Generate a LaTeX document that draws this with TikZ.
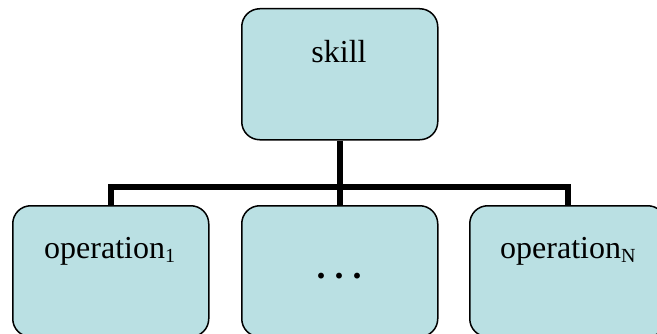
\documentclass[tikz,border=0pt]{standalone}
\usepackage{fontspec}
\setmainfont{Liberation Serif}
\usetikzlibrary{calc}
\newcommand{\mysub}[1]{\raisebox{-4pt}{\fontsize{20pt}{20pt}\selectfont #1}}
\begin{document}
\begin{tikzpicture}[x=1pt,y=1pt,
  box/.style={draw=black,line width=1.5pt,fill=boxfill,rounded corners=18pt,minimum width=196pt,minimum height=131pt,inner sep=0pt,anchor=north west},
  lbl/.style={font=\fontsize{32pt}{36pt}\selectfont,inner sep=0pt},
  bar/.style={line width=6pt}]
\definecolor{boxfill}{HTML}{BAE0E3}
\clip (0,0) rectangle (657,333);
\useasboundingbox (0,0) rectangle (657,333);
\coordinate (bus) at (0,146);
\node[box] (skill) at (241,325) {};
\node[box] (op1) at (12,128) {};
\node[box] (dots) at (241,128) {};
\node[box] (opN) at (469,128) {};
\draw[bar] (skill.south) -- (skill.south |- bus);
\draw[bar,line join=miter] (op1.north) -- (op1.north |- bus) -- (opN.north |- bus) -- (opN.north);
\draw[bar] (dots.north) -- (dots.north |- bus);
\node[lbl,anchor=base] (tskill) at (339,271) {skill};
\node[lbl,anchor=base west] (top1) at (44,75) {operation\mysub{1}};
\node[lbl,anchor=base,font=\fontsize{36pt}{40pt}\selectfont\bfseries] (tdots) at (339,55) {.\hspace{9pt}.\hspace{9pt}.};
\node[lbl,anchor=base west] (topN) at (500,75) {operation\mysub{N}};
\end{tikzpicture}
\end{document}
